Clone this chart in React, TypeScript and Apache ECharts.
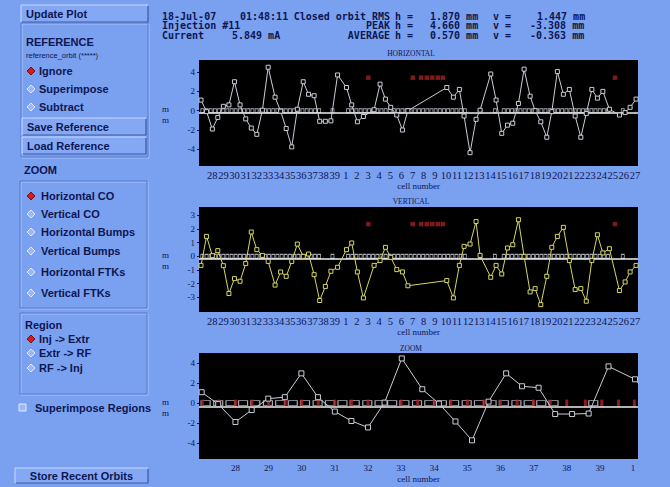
import React, { useEffect, useRef } from "react";
import * as echarts from "echarts";

// ---------- data ----------
const cellNames = ["28","29","30","31","32","33","34","35","36","37","38","39","1","2","3","4","5","6","7","8","9","10","11","12","13","14","15","16","17","18","19","20","21","22","23","24","25","26","27"];
const cellTickPos = [28,29,30,31,32,33,34,35,36,37,38,39,40,41,42,43,44,45,46,47,48,49,50,51,52,53,54,55,56,57,58,59,60,61,62,63,64,65,66];
const zoomTickPos = [28,29,30,31,32,33,34,35,36,37,38,39,40];

const bpmX = [26.98,27.48,28.0,28.49,28.99,29.49,29.99,30.49,31.0,31.5,32.0,32.5,
  33.02,33.64,34.14,34.64,35.14,35.64,36.17,36.65,37.15,37.65,38.16,38.66,39.26,40.06,
  40.53,41.04,41.58,42.54,43.08,43.56,44.04,44.58,45.09,45.58,
  49.08,49.67,50.21,50.63,51.17,51.71,52.07,
  53.03,53.51,54.02,54.53,55.01,55.52,56.03,56.57,57.02,57.53,
  58.07,58.52,59.02,59.56,60.1,60.62,61.13,61.62,62.12,62.62,63.11,63.7,64.6,65.11,65.56,66.1];

const horizMM = [1.1,-0.1,-1.9,-0.7,0.45,0.6,3.0,0.6,-0.85,-1.8,-2.45,0.05,
  4.5,1.4,-0.05,-1.85,-3.75,0.15,3.0,1.7,1.55,-1.1,-1.1,-1.05,3.7,2.4,
  0.6,-1.15,-0.6,0.1,2.75,1.2,0.35,-0.45,-2.0,0.0,
  2.4,1.4,2.2,-0.55,-4.35,-0.9,0.05,
  3.8,1.1,-2.35,-1.5,-1.3,0.75,4.3,1.5,0.0,-1.15,
  -2.75,-0.1,4.05,1.7,2.2,-0.55,-2.75,-0.3,2.2,1.3,2.0,0.15,-0.45,-0.2,0.35,1.2];

const vertMM = [-0.66,1.46,0.05,0.42,-0.68,-2.72,-1.63,-1.82,-0.53,1.78,0.49,0.07,
  -0.37,-2.1,-1.14,-1.46,-0.37,0.9,0.0,0.17,-1.34,-3.23,-2.2,-1.09,-0.8,0.49,
  0.98,-1.14,-3.04,-0.66,-0.31,0.66,-0.07,-0.97,-1.14,-2.15,
  -1.77,-3.04,-0.66,0.73,0.9,2.55,0.07,
  -1.53,-0.66,-1.29,0.61,0.85,2.68,0.0,-2.6,-2.36,-3.53,
  -1.46,0.66,1.46,2.12,-0.31,-2.43,-2.36,-3.28,-0.31,1.58,0.25,0.56,-2.5,-1.87,-1.14,-0.66];

// disabled BPMs (red flags)
const badBpmX = [42.03,46.02,46.77,47.28,47.78,48.27,48.72,64.2];
const badFlagH = 3.42;
const badFlagV = 2.36;

// lattice (dipoles / quadrupoles) positions along the ring
const dipoleX = [27.1,27.48,27.85,28.23,28.6,28.98,29.35,29.73,30.1,30.48,30.85,31.23,31.6,31.98,32.35,32.73,33.1,33.48,33.85,34.23,34.6,34.98,35.35,35.73,36.1,36.48,36.85,37.23,37.6,
  38.8,
  40.2,40.58,40.95,41.33,41.7,42.08,42.45,42.83,43.2,43.58,43.95,44.33,44.7,45.08,45.45,45.83,46.2,46.58,46.95,47.33,47.7,48.08,48.45,48.83,49.2,49.58,49.95,50.33,50.7,
  52.1,53.4,
  54.2,54.58,54.95,55.33,55.7,56.08,56.45,56.83,57.2,57.58,57.95,58.33,58.7,59.08,59.45,59.83,60.2,60.58,60.95,61.33,61.7,62.08,62.45,62.83,63.2,63.58,
  64.9];
const quadX = [27.0,27.5,28.0,28.5,29.0,29.5,30.0,30.5,31.0,31.5,32.0,32.5,33.0,33.5,34.0,34.5,35.0,35.5,36.0,36.5,37.0,37.5,38.0,38.56,39.06,39.56,40.04];

const headerRows = [
  { left: "18-Jul-07", mid: "01:48:11", lab: "Closed orbit RMS", h: "1.870 mm", v: "1.447 mm" },
  { left: "Injection #11", mid: "", lab: "PEAK", h: "4.660 mm", v: "-3.308 mm" },
  { left: "Current", mid: "5.849 mA", lab: "AVERAGE", h: "0.570 mm", v: "-0.363 mm" },
];

const refOptions = ["Ignore", "Superimpose", "Subtract"];
const zoomOptions = ["Horizontal CO", "Vertical CO", "Horizontal Bumps", "Vertical Bumps", "Horizontal FTKs", "Vertical FTKs"];
const regionOptions = ["Inj -> Extr", "Extr -> RF", "RF -> Inj"];

// ---------- styles ----------
const BG = "#7aa0f0";
const INK = "#0e1650";
const PANEL_FONT = "Liberation Sans";
const MONO = "DejaVu Sans Mono";
const SERIF = "Liberation Serif";

function txt(x: number, y: number, text: string, o: any = {}) {
  return {
    type: "text", x, y, silent: true,
    style: {
      text, fill: o.fill || INK, fontSize: o.size || 11, fontWeight: o.weight || "bold",
      fontFamily: o.family || PANEL_FONT, align: o.align || "left", verticalAlign: "middle",
    },
  };
}
function button(x: number, y: number, w: number, h: number, label: string, center = false) {
  return [
    { type: "rect", silent: true, shape: { x, y, width: w, height: h }, style: { fill: "#84a8f4" } },
    { type: "polyline", silent: true, shape: { points: [[x, y + h], [x, y], [x + w, y]] }, style: { stroke: "#c6d8ff", lineWidth: 1, fill: null } },
    { type: "polyline", silent: true, shape: { points: [[x + 1, y + h], [x + w, y + h], [x + w, y + 1]] }, style: { stroke: "#3a58a4", lineWidth: 1.2, fill: null } },
    txt(center ? x + w / 2 : x + 5, y + h / 2 + 0.5, label, { align: center ? "center" : "left" }),
  ];
}
function groupBox(x: number, y: number, w: number, h: number) {
  return [
    { type: "rect", silent: true, shape: { x: x + 1, y: y + 1, width: w, height: h }, style: { fill: null, stroke: "#a9c3fb", lineWidth: 1 } },
    { type: "rect", silent: true, shape: { x, y, width: w, height: h }, style: { fill: null, stroke: "#5878cc", lineWidth: 1 } },
  ];
}
function diamond(cx: number, cy: number, sel: boolean) {
  const r = 4;
  return {
    type: "polygon", silent: true,
    shape: { points: [[cx - r, cy], [cx, cy - r], [cx + r, cy], [cx, cy + r]] },
    style: { fill: sel ? "#d41c1c" : "#9cb8f6", stroke: sel ? "#7a1010" : "#dfe8ff", lineWidth: 1 },
  };
}

function buildGraphics() {
  const g: any[] = [];
  // left panel
  g.push(...button(21, 5, 127, 17, "Update Plot"));
  g.push(...groupBox(21, 23, 127, 134));
  g.push(txt(26, 42, "REFERENCE"));
  g.push(txt(26, 55, "reference_orbit (*****)", { size: 7.5, weight: "normal" }));
  refOptions.forEach((s, i) => {
    const y = 71 + i * 18;
    g.push(diamond(31, y, i === 0));
    g.push(txt(39, y, s));
  });
  g.push(...button(22, 118, 124, 17, "Save Reference"));
  g.push(...button(22, 137, 124, 17, "Load Reference"));
  g.push(txt(24, 170, "ZOOM"));
  g.push(...groupBox(20, 181, 127, 127));
  const zoomY = [196, 214, 232, 251, 272, 293];
  zoomOptions.forEach((s, i) => {
    g.push(diamond(31, zoomY[i], i === 0));
    g.push(txt(41, zoomY[i], s));
  });
  g.push(...groupBox(20, 313, 127, 81));
  g.push(txt(25, 325, "Region"));
  const regY = [339, 353, 368];
  regionOptions.forEach((s, i) => {
    g.push(diamond(31, regY[i], i === 0));
    g.push(txt(39, regY[i], s));
  });
  g.push({ type: "rect", silent: true, shape: { x: 19, y: 404, width: 7, height: 7 }, style: { fill: "#9cb8f6", stroke: "#dfe8ff", lineWidth: 1 } });
  g.push(txt(35, 408, "Superimpose Regions"));
  g.push(...button(15, 468, 133, 15, "Store Recent Orbits", true));

  // header
  const rowY = [16, 25.5, 35];
  headerRows.forEach((r, i) => {
    const o = { family: MONO, size: 10, weight: "bold" };
    g.push(txt(162, rowY[i], r.left, o));
    if (r.mid) g.push(txt(i === 0 ? 240 : 232, rowY[i], r.mid, o));
    g.push(txt(390, rowY[i], r.lab, { ...o, align: "right" }));
    g.push(txt(395, rowY[i], "h =", o));
    g.push(txt(430, rowY[i], r.h, o));
    g.push(txt(493, rowY[i], "v =", o));
    g.push(txt(r.v.startsWith("-") ? 530 : 537, rowY[i], r.v, o));
  });

  // plot titles and units
  const titles: [string, number][] = [["HORIZONTAL", 53], ["VERTICAL", 201], ["ZOOM", 348]];
  titles.forEach(([t, y]) => g.push(txt(411, y, t, { family: SERIF, size: 7.5, weight: "normal", align: "center" })));
  const unitY = [114.5, 260, 407];
  unitY.forEach((y) => g.push({
    type: "text", x: 162, y, silent: true,
    style: { text: "m\nm", fill: INK, fontSize: 9, fontFamily: SERIF, lineHeight: 11, align: "left", verticalAlign: "middle" },
  }));
  return g;
}

// ---------- chart ----------
function xAxisCfg(grid: number, min: number, max: number, ticks: number[], nameGap: number, fs: number) {
  return {
    type: "value", gridIndex: grid, min, max,
    axisLine: { show: false }, splitLine: { show: false },
    axisTick: { show: true, customValues: ticks, length: 3, lineStyle: { color: INK, width: 1 } },
    axisLabel: {
      customValues: ticks, margin: 4, color: INK, fontFamily: SERIF, fontSize: fs,
      formatter: (v: number) => cellNames[Math.round(v) - 28] ?? "",
    },
    name: "cell number", nameLocation: "middle", nameGap,
    nameTextStyle: { color: INK, fontFamily: SERIF, fontSize: 9 },
  };
}
function yAxisCfg(grid: number, min: number, max: number, ticks: number[]) {
  return {
    type: "value", gridIndex: grid, min, max,
    axisLine: { show: false }, splitLine: { show: false },
    axisTick: { show: true, customValues: ticks, length: 2, lineStyle: { color: INK } },
    axisLabel: { customValues: ticks, margin: 4, color: INK, fontFamily: SERIF, fontSize: 9 },
  };
}

const pts = (ys: number[]) => bpmX.map((x, i) => [x, ys[i]]);

function latticeSeries(grid: number, size: number[], baseY: number, withQuads: boolean) {
  const out: any[] = [{
    type: "scatter", xAxisIndex: grid, yAxisIndex: grid, z: 2,
    data: dipoleX.map((x) => [x, 0]),
    symbol: "rect", symbolSize: size,
    itemStyle: { color: "rgba(0,0,0,0)", borderColor: "#cfd3dc", borderWidth: 0.9 },
    silent: true, clip: true,
    markLine: {
      silent: true, symbol: "none", label: { show: false },
      lineStyle: { color: "#eceff2", width: 1.5, type: "solid" },
      data: [{ yAxis: baseY }],
    },
  }];
  if (withQuads) {
    out.push({
      type: "scatter", xAxisIndex: grid, yAxisIndex: grid, z: 2,
      data: quadX.map((x) => [x, 0]),
      symbol: "rect", symbolSize: [3, 7],
      itemStyle: { color: "#b52020" }, silent: true, clip: true,
    });
  }
  return out;
}

function orbitSeries(grid: number, ys: number[], color: string, size: number) {
  return {
    type: "line", xAxisIndex: grid, yAxisIndex: grid, z: 5,
    data: pts(ys), symbol: "rect", symbolSize: size, showSymbol: true, clip: true,
    lineStyle: { color, width: 1 },
    itemStyle: { color: "#000", borderColor: color, borderWidth: 1 },
  };
}

function badSeries(grid: number, y: number) {
  return {
    type: "scatter", xAxisIndex: grid, yAxisIndex: grid, z: 3,
    data: badBpmX.map((x) => [x, y]), symbol: "rect", symbolSize: 4.5,
    itemStyle: { color: "#9e2020" }, silent: true,
  };
}

export default function App() {
  const ref = useRef<HTMLDivElement>(null);
  useEffect(() => {
    const chart = echarts.init(ref.current!, undefined, { renderer: "svg" });
    chart.setOption({
      animation: false,
      backgroundColor: BG,
      grid: [
        { left: 199, top: 60, width: 439, height: 106, show: true, backgroundColor: "#000", borderWidth: 0 },
        { left: 199, top: 207, width: 439, height: 105, show: true, backgroundColor: "#000", borderWidth: 0 },
        { left: 199, top: 353, width: 439, height: 106, show: true, backgroundColor: "#000", borderWidth: 0 },
      ],
      xAxis: [
        xAxisCfg(0, 26.8, 66.27, cellTickPos, 14, 10.5),
        xAxisCfg(1, 26.8, 66.27, cellTickPos, 14, 10.5),
        xAxisCfg(2, 26.9, 40.15, zoomTickPos, 15, 9),
      ],
      yAxis: [
        yAxisCfg(0, -5.73, 5.25, [-4, -2, 0, 2, 4]),
        yAxisCfg(1, -4.07, 3.61, [-3, -2, -1, 0, 1, 2, 3]),
        yAxisCfg(2, -5.63, 5.05, [-4, -2, 0, 2, 4]),
      ],
      series: [
        ...latticeSeries(0, [3, 4], -0.2, false),
        ...latticeSeries(1, [3, 4], -0.17, false),
        ...latticeSeries(2, [9, 5], -0.35, true),
        badSeries(0, badFlagH),
        badSeries(1, badFlagV),
        orbitSeries(0, horizMM, "#c9cdd6", 4),
        orbitSeries(1, vertMM, "#d6d666", 4),
        orbitSeries(2, horizMM, "#c9cdd6", 5),
      ],
      graphic: buildGraphics(),
    });
    return () => chart.dispose();
  }, []);
  return <div ref={ref} style={{ position: "absolute", left: 0, top: 0, width: 670, height: 487 }} />;
}
